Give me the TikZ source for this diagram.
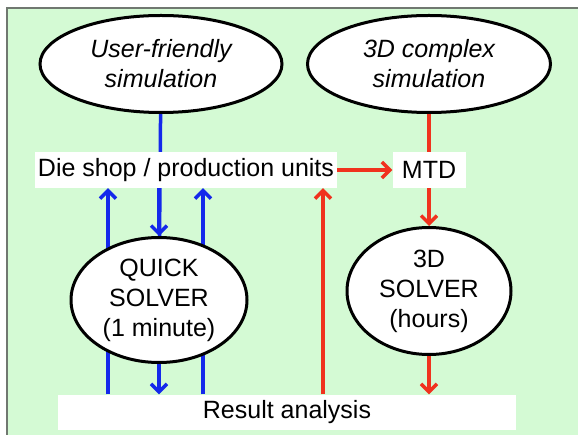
\documentclass[tikz,border=0pt]{standalone}
\usepackage{fontspec}
\setmainfont{Liberation Sans}
\usepackage{xcolor}
\usetikzlibrary{positioning, arrows.meta, shapes.geometric, backgrounds}

\definecolor{panelgreen}{RGB}{212,250,212}
\definecolor{framegray}{RGB}{112,120,112}
\definecolor{flowblue}{RGB}{20,40,235}
\definecolor{flowred}{RGB}{240,50,30}

\begin{document}
\begin{tikzpicture}[x=1pt, y=1pt,
        >={Straight Barb[length=8pt, width=16pt]},
        every node/.style={font=\fontsize{25}{30}\selectfont, align=center, inner sep=0pt},
        oval/.style={draw, ellipse, line width=3pt, fill=white},
        label box/.style={fill=white, minimum height=36pt},
        blueflow/.style={draw=flowblue, line width=3.5pt},
        redflow/.style={draw=flowred, line width=3.5pt}]
        \useasboundingbox (0, 0) rectangle (578, -435);

        \node[oval, minimum width=242pt, minimum height=97pt]
              (usim)   at (161, -64)  {\itshape User-friendly\\\itshape simulation};
        \node[oval, minimum width=243pt, minimum height=97pt]
              (csim)   at (429, -64)  {\itshape 3D complex\\\itshape simulation};
        \node[label box, minimum width=302pt]
              (shop)   at (186, -170) {Die shop / production units};
        \node[label box, minimum width=73pt]
              (mtd)    at (429, -170) {MTD};
        \node[oval, minimum width=176pt, minimum height=125pt]
              (quick)  at (159, -300) {QUICK\\SOLVER\\(1 minute)};
        \node[oval, minimum width=164pt, minimum height=127pt]
              (solver) at (429, -291) {3D\\SOLVER\\(hours)};
        \node[label box, minimum width=458pt, minimum height=35pt]
              (result) at (287, -412) {Result analysis};

        \coordinate (upleft)  at (108, 0);
        \coordinate (upright) at (203, 0);
        \coordinate (upred)   at (323, 0);

        \begin{pgfonlayer}{background}
            \fill[panelgreen] (7, -8) rectangle (578, -435);
            \draw[framegray, line width=2pt] (7, -435) -- (7, -8) -- (578, -8);

            % quick route
            \draw[blueflow]     (usim)  -- (quick);
            \draw[blueflow, ->] (shop.south -| quick) -- (quick);
            \draw[blueflow, ->] (quick) -- (quick.south |- result.north);
            \draw[blueflow, ->] (result.north -| upleft)  -- (shop.south -| upleft);
            \draw[blueflow, ->] (result.north -| upright) -- (shop.south -| upright);

            % 3D route
            \draw[redflow]     (csim)   -- (mtd);
            \draw[redflow, ->] (shop)   -- (mtd);
            \draw[redflow, ->] (mtd)    -- (solver);
            \draw[redflow, ->] (solver) -- (solver.south |- result.north);
            \draw[redflow, ->] (result.north -| upred) -- (shop.south -| upred);
        \end{pgfonlayer}
    \end{tikzpicture}
\end{document}
